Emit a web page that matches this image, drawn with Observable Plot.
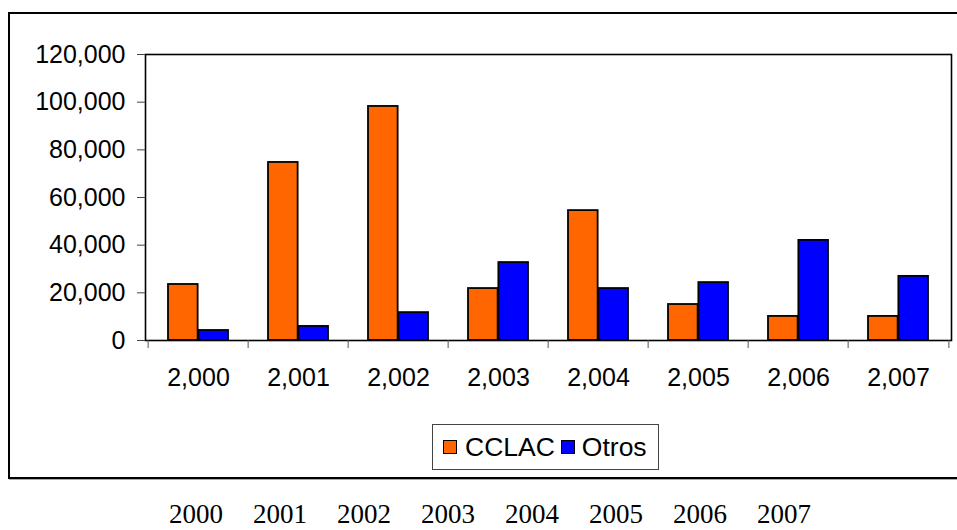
<!DOCTYPE html>
<html><head><meta charset="utf-8">
<script src="https://cdn.jsdelivr.net/npm/d3@7"></script>
<script src="https://cdn.jsdelivr.net/npm/@observablehq/plot@0.6"></script>
<style>
html,body{margin:0;padding:0;background:#fff;overflow:hidden;}
#wrap{position:relative;width:957px;height:530px;overflow:hidden;font-family:"Liberation Sans",Arial,sans-serif;color:#000;}
#outer{position:absolute;left:8px;top:12px;width:990px;height:463px;border:2px solid #000;box-shadow:1px 1px 0 #aaa;}
#chart{position:absolute;left:0;top:0;}
#legend{position:absolute;left:432px;top:424px;width:225px;height:44px;border:1px solid #444;display:flex;align-items:center;font-size:26.5px;white-space:nowrap;}
#legend .sw{display:inline-block;width:12px;height:12px;border:1px solid #000;}
#bottom{position:absolute;left:0;top:499px;height:30px;width:957px;font-family:"Liberation Serif","Times New Roman",serif;font-size:27px;line-height:30px;}
#bottom span{position:absolute;top:0;}
</style>
</head><body>
<div id="wrap">
  <div id="outer"></div>
  <div id="chart"></div>
  <div id="legend"></div>
  <div id="bottom"></div>
</div>
<script>
const years = [2000, 2001, 2002, 2003, 2004, 2005, 2006, 2007];
const cclac = [23500, 74700, 98200, 21800, 54500, 15100, 10100, 10100];
const otros = [4200, 5900, 11700, 32700, 21800, 24300, 42000, 26900];
const series = ["CCLAC", "Otros"];
const colors = ["#FF6600", "#0000FF"];
const yTicks = [0, 20000, 40000, 60000, 80000, 100000, 120000];
const bottomLabels = ["2000", "2001", "2002", "2003", "2004", "2005", "2006", "2007"];

const W = 957, H = 400, ML = 145, MR = 6, MT = 54, MB = 60;
const bw = (W - ML - MR) / years.length;
const rowsC = years.map((y, i) => ({year: y, series: series[0], value: cclac[i]}));
const rowsO = years.map((y, i) => ({year: y, series: series[1], value: otros[i]}));
const fmt = d3.format(",");

const chart = Plot.plot({
  width: W, height: H,
  marginLeft: ML, marginRight: MR, marginTop: MT, marginBottom: MB,
  style: {fontFamily: '"Liberation Sans", Arial, sans-serif', fontSize: "25px", color: "#000", background: "transparent", overflow: "visible"},
  x: {type: "band", domain: years, padding: 0, label: null},
  y: {domain: [0, 120000], label: null},
  color: {domain: series, range: colors},
  marks: [
    Plot.barY(rowsC, {x: "year", y: "value", fill: "series", stroke: "#000", strokeWidth: 1.8, insetLeft: 20, insetRight: bw / 2}),
    Plot.barY(rowsO, {x: "year", y: "value", fill: "series", stroke: "#000", strokeWidth: 1.8, insetLeft: bw / 2, insetRight: 20}),
    Plot.frame({stroke: "#000", strokeWidth: 1.6}),
    Plot.axisY(yTicks, {tickFormat: fmt, tickSize: 8, tickPadding: 12, stroke: "#444", label: null}),
    Plot.axisX({tickSize: 0, tickPadding: 28, tickFormat: fmt, label: null}),
    Plot.axisX(years, {tickFormat: () => "", tickSize: 8, dx: -bw / 2, stroke: "#555", label: null}),
    Plot.axisX([years[years.length - 1]], {tickFormat: () => "", tickSize: 8, dx: bw / 2, stroke: "#555", label: null})
  ]
});
document.getElementById("chart").appendChild(chart);

const legend = document.getElementById("legend");
legend.innerHTML =
  `<span class="sw" style="background:${colors[0]};margin-left:10px"></span>` +
  `<span style="margin-left:8px">${series[0]}</span>` +
  `<span class="sw" style="background:${colors[1]};margin-left:6px"></span>` +
  `<span style="margin-left:7px">${series[1]}</span>`;

const bottom = document.getElementById("bottom");
bottomLabels.forEach((t, i) => {
  const s = document.createElement("span");
  s.textContent = t;
  s.style.left = (169 + i * 84) + "px";
  bottom.appendChild(s);
});
</script>
</body></html>
